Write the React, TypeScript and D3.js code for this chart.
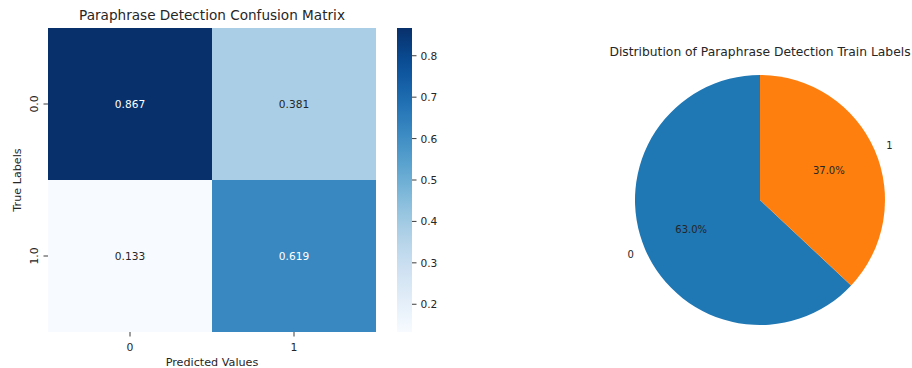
import React from "react";
import * as d3 from "d3";

const rowLabels = ["0.0", "1.0"];
const colLabels = ["0", "1"];
const matrix = [
  [0.867, 0.381],
  [0.133, 0.619],
];
const cbTicks = [0.2, 0.3, 0.4, 0.5, 0.6, 0.7, 0.8];
const pieLabels = ["0", "1"];
const pieValues = [63.0, 37.0];
const pieColors = ["#1f77b4", "#ff7f0e"];

const FONT = "DejaVu Sans, sans-serif";
const TXT = "#262626";

export default function App() {
  const hm = { x0: 48, x1: 376, y0: 28, y1: 332 };
  const xs = d3.scaleBand().domain(colLabels).range([hm.x0, hm.x1]);
  const ys = d3.scaleBand().domain(rowLabels).range([hm.y0, hm.y1]);
  const all = matrix.flat();
  const vmin = d3.min(all)!;
  const vmax = d3.max(all)!;
  const norm = d3.scaleLinear().domain([vmin, vmax]).range([0, 1]);
  const color = (v: number) => d3.interpolateBlues(norm(v));

  const cb = { x0: 397, x1: 412, y0: 28, y1: 332 };
  const cbScale = d3.scaleLinear().domain([vmin, vmax]).range([cb.y1, cb.y0]);
  const gradStops = d3.range(0, 1.0001, 0.05);

  const cx = 760, cy = 200, r = 125;
  const pie = d3
    .pie<number>()
    .sort(null)
    .startAngle(0)
    .endAngle(-2 * Math.PI);
  const arcs = pie(pieValues);
  const arcGen = d3.arc<d3.PieArcDatum<number>>().innerRadius(0).outerRadius(r);
  const posAt = (a: number, rr: number) => [cx + rr * Math.sin(a), cy - rr * Math.cos(a)];

  return (
    <svg width={912} height={368} style={{ position: "absolute", left: 0, top: 0 }} fontFamily={FONT}>
      <rect width={912} height={368} fill="#fff" />
      <defs>
        <linearGradient id="cbg" x1="0" y1="1" x2="0" y2="0">
          {gradStops.map((t) => (
            <stop key={t} offset={t} stopColor={d3.interpolateBlues(t)} />
          ))}
        </linearGradient>
      </defs>
      {/* heatmap */}
      <text x={(hm.x0 + hm.x1) / 2} y={20} textAnchor="middle" fontSize={13.6} fill={TXT}>
        Paraphrase Detection Confusion Matrix
      </text>
      {matrix.map((row, i) =>
        row.map((v, j) => (
          <g key={`${i}-${j}`}>
            <rect
              x={xs(colLabels[j])}
              y={ys(rowLabels[i])}
              width={xs.bandwidth()}
              height={ys.bandwidth()}
              fill={color(v)}
            />
            <text
              x={xs(colLabels[j])! + xs.bandwidth() / 2}
              y={ys(rowLabels[i])! + ys.bandwidth() / 2}
              textAnchor="middle"
              dominantBaseline="central"
              fontSize={10.6}
              fill={norm(v) > 0.6 ? "#ffffff" : TXT}
            >
              {v.toFixed(3)}
            </text>
          </g>
        ))
      )}
      {colLabels.map((c) => {
        const x = xs(c)! + xs.bandwidth() / 2;
        return (
          <g key={c}>
            <line x1={x} x2={x} y1={hm.y1} y2={hm.y1 + 4.5} stroke={TXT} strokeWidth={0.9} />
            <text x={x} y={hm.y1 + 19} textAnchor="middle" fontSize={10.8} fill={TXT}>
              {c}
            </text>
          </g>
        );
      })}
      {rowLabels.map((l) => {
        const y = ys(l)! + ys.bandwidth() / 2;
        return (
          <g key={l}>
            <line x1={hm.x0 - 4.5} x2={hm.x0} y1={y} y2={y} stroke={TXT} strokeWidth={0.9} />
            <text
              transform={`translate(${hm.x0 - 10},${y}) rotate(-90)`}
              textAnchor="middle"
              fontSize={10.8}
              fill={TXT}
            >
              {l}
            </text>
          </g>
        );
      })}
      <text x={(hm.x0 + hm.x1) / 2} y={366} textAnchor="middle" fontSize={11.2} fill={TXT}>
        Predicted Values
      </text>
      <text
        transform={`translate(21,${(hm.y0 + hm.y1) / 2}) rotate(-90)`}
        textAnchor="middle"
        fontSize={11.2}
        fill={TXT}
      >
        True Labels
      </text>
      {/* colorbar */}
      <rect x={cb.x0} y={cb.y0} width={cb.x1 - cb.x0} height={cb.y1 - cb.y0} fill="url(#cbg)" />
      {cbTicks.map((t) => (
        <g key={t}>
          <line x1={cb.x1} x2={cb.x1 + 4.5} y1={cbScale(t)} y2={cbScale(t)} stroke={TXT} strokeWidth={0.9} />
          <text x={cb.x1 + 8.5} y={cbScale(t)} dominantBaseline="central" fontSize={10.6} fill={TXT}>
            {t.toFixed(1)}
          </text>
        </g>
      ))}
      {/* pie */}
      <text x={cx} y={56} textAnchor="middle" fontSize={12.3} fill={TXT}>
        Distribution of Paraphrase Detection Train Labels
      </text>
      <g transform={`translate(${cx},${cy})`}>
        {arcs.map((a, i) => (
          <path
            key={i}
            d={arcGen({ ...a, startAngle: Math.min(a.startAngle, a.endAngle), endAngle: Math.max(a.startAngle, a.endAngle) })!}
            fill={pieColors[i]}
          />
        ))}
      </g>
      {arcs.map((a, i) => {
        const mid = (a.startAngle + a.endAngle) / 2;
        const [lx, ly] = posAt(mid, r * 1.1);
        const [px, py] = posAt(mid, r * 0.6);
        const right = Math.sin(mid) > 0;
        return (
          <g key={i}>
            <text x={lx} y={ly} textAnchor={right ? "start" : "end"} dominantBaseline="central" fontSize={10} fill={TXT}>
              {pieLabels[i]}
            </text>
            <text x={px} y={py} textAnchor="middle" dominantBaseline="central" fontSize={10} fill={TXT}>
              {pieValues[i].toFixed(1)}%
            </text>
          </g>
        );
      })}
    </svg>
  );
}
